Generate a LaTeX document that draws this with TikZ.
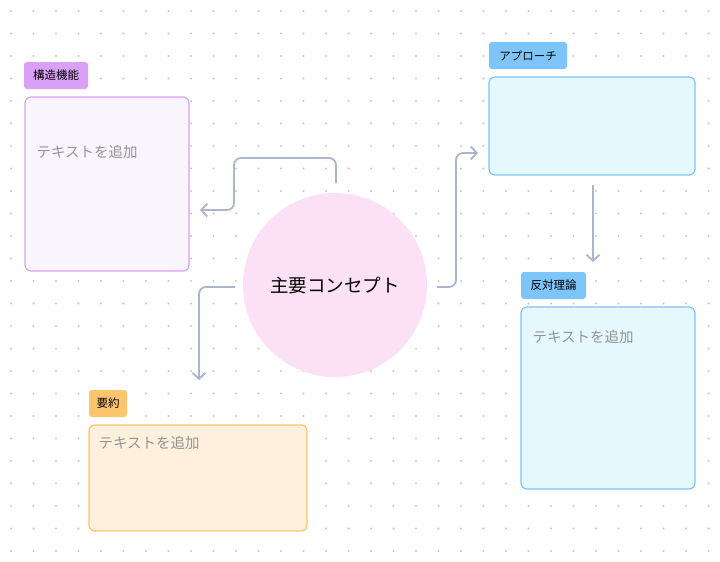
\documentclass[tikz,border=0pt]{standalone}
\usepackage{fontspec}
\setmainfont{Noto Sans CJK JP}
\usetikzlibrary{arrows.meta}
\begin{document}
\begin{tikzpicture}[x=1pt,y=-1pt,
  tag/.style={rounded corners=3pt,inner sep=0pt,font=\fontsize{11.5}{13}\selectfont},
  box/.style={rounded corners=6pt,line width=1.2pt},
  ph/.style={anchor=west,text=black!42,font=\fontsize{14.5}{16}\selectfont},
  conn/.style={draw=arr,line width=1.8pt,rounded corners=7pt,-{Straight Barb[length=6pt,width=13pt]}}]
\definecolor{arr}{HTML}{A9B6CB}
\definecolor{pur}{HTML}{D9A0F5}\definecolor{purf}{HTML}{F9F5FD}
\definecolor{blu}{HTML}{7DC4F8}\definecolor{bluf}{HTML}{E5F8FD}
\definecolor{ora}{HTML}{FBC56B}\definecolor{oraf}{HTML}{FEF0DC}
\definecolor{pink}{HTML}{FCE1F6}
\fill[white] (0,0) rectangle (720,562);
\useasboundingbox (0,0) rectangle (720,562);
\foreach \i in {0,...,31}{\foreach \j in {0,...,24}{
  \fill[black!22] (11+22.5*\i,11+22.5*\j) circle (1.1pt);}}
% purple
\fill[pur,rounded corners=3pt] (24,62) rectangle (88,89);
\node[tag] (t1) at (56,75.5) {構造機能};
\draw[box,draw=pur,fill=purf] (25,97) rectangle (189,271);
\node[ph] (p1) at (33,152) {テキストを追加};
% circle
\fill[pink] (335,285) circle (92);
\node[font=\fontsize{18.5}{20}\selectfont] (c) at (335,286) {主要コンセプト};
% blue 1
\fill[blu,rounded corners=3pt] (489,42) rectangle (567,69);
\node[tag] (t2) at (528,55.5) {アプローチ};
\draw[box,draw=blu,fill=bluf] (489,77) rectangle (695,175);
% blue 2
\fill[blu,rounded corners=3pt] (521,272) rectangle (586,299);
\node[tag] (t3) at (553.5,285.5) {反対理論};
\draw[box,draw=blu,fill=bluf] (521,307) rectangle (695,489);
\node[ph] (p3) at (529,337) {テキストを追加};
% orange
\fill[ora,rounded corners=3pt] (89,390) rectangle (127,417);
\node[tag] (t4) at (108,403.5) {要約};
\draw[box,draw=ora,fill=oraf] (89,425) rectangle (307,531);
\node[ph] (p4) at (95,443) {テキストを追加};
% connectors
\coordinate (a1) at (336,183); \coordinate (b1) at (200,210);
\draw[conn] (a1) -- (336,158) -- (234,158) -- (234,210) -- (b1);
\coordinate (a2) at (235,287); \coordinate (b2) at (199,380);
\draw[conn] (a2) -- (199,287) -- (b2);
\coordinate (a3) at (437,287); \coordinate (b3) at (478,153);
\draw[conn] (a3) -- (456,287) -- (456,153) -- (b3);
\coordinate (a4) at (593,185); \coordinate (b4) at (593,262);
\draw[conn] (a4) -- (b4);
\end{tikzpicture}
\end{document}
